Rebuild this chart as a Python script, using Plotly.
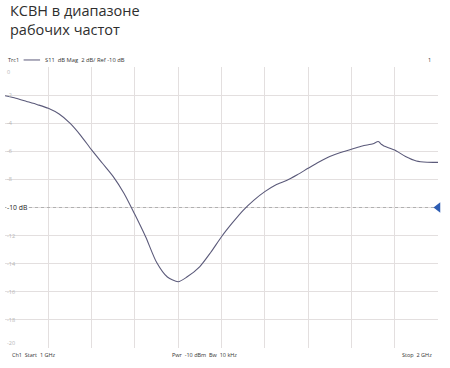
import plotly.graph_objects as go

# Data (frequency in GHz, S11 in dB)
freq_ghz = [1.000, 1.025, 1.050, 1.075, 1.100, 1.125, 1.150, 1.175, 1.200, 1.225,
            1.250, 1.275, 1.300, 1.325, 1.350, 1.375, 1.400, 1.420, 1.450, 1.475,
            1.500, 1.525, 1.550, 1.575, 1.600, 1.625, 1.650, 1.675, 1.700, 1.725,
            1.750, 1.775, 1.800, 1.825, 1.850, 1.862, 1.870, 1.875, 1.900, 1.925,
            1.950, 1.975, 2.000]
s11_db = [-2.05, -2.22, -2.45, -2.68, -2.94, -3.35, -4.00, -4.88, -5.90, -6.85,
          -7.80, -9.00, -10.50, -12.10, -13.90, -14.95, -15.28, -14.95, -14.20, -13.20,
          -12.08, -11.10, -10.20, -9.47, -8.87, -8.40, -8.08, -7.67, -7.21, -6.76,
          -6.37, -6.08, -5.86, -5.62, -5.46, -5.30, -5.52, -5.62, -5.91, -6.37,
          -6.69, -6.78, -6.79]

x_ticks = [1.1, 1.2, 1.3, 1.4, 1.5, 1.6, 1.7, 1.8, 1.9]
y_ticks = [0, -2, -4, -6, -8, -10, -12, -14, -16, -18, -20]
ref_level = -10
title_text = "КСВН в диапазоне<br>рабочих частот"
header_text = "S11  dB Mag  2 dB/ Ref -10 dB"
footer_left = "Ch1  Start  1 GHz"
footer_mid = "Pwr  -10 dBm  Bw  10 kHz"
footer_right = "Stop  2 GHz"

FONT = "Open Sans"
GRID = "#e3dfdf"
TRACE = "#5b5a7a"

fig = go.Figure()

# reference dashed line
fig.add_trace(go.Scatter(x=[freq_ghz[0], freq_ghz[-1]], y=[ref_level, ref_level],
                         mode="lines", line=dict(color="#b0b0b0", width=1, dash="dot"),
                         hoverinfo="skip", showlegend=False))
# trace
fig.add_trace(go.Scatter(x=freq_ghz, y=s11_db, mode="lines",
                         line=dict(color=TRACE, width=1.1, shape="spline", smoothing=0.7),
                         showlegend=False))
# reference marker
fig.add_trace(go.Scatter(x=[freq_ghz[-1]], y=[ref_level], mode="markers",
                         marker=dict(symbol="triangle-left", size=9, color="#2d5db3"),
                         cliponaxis=False, showlegend=False))

annotations = []
for i, v in enumerate(y_ticks):
    if v == ref_level:
        txt, col, sz, bg = "-10 dB", "#222222", 6.8, "white"
    else:
        txt, col, sz, bg = str(v), "#b5b5b5", 5.5, "rgba(0,0,0,0)"
    anchor = "middle"
    if i == 0:
        anchor = "top"
    elif i == len(y_ticks) - 1:
        anchor = "bottom"
    annotations.append(dict(x=0, xref="paper", y=v, yref="y", text=txt, showarrow=False,
                            xanchor="left", yanchor=anchor, xshift=1, bgcolor=bg,
                            borderpad=0,
                            font=dict(family=FONT, size=sz, color=col)))

# title
annotations.append(dict(x=0, xref="paper", y=1, yref="paper", text=title_text,
                        showarrow=False, xanchor="left", yanchor="top", align="left",
                        xshift=3, yshift=68,
                        font=dict(family=FONT, size=14.5, color="#2e2e2e")))
# header line
annotations.append(dict(x=0, xref="paper", y=1, yref="paper", text="Trc1",
                        showarrow=False, xanchor="left", yanchor="middle",
                        xshift=1, yshift=7, font=dict(family=FONT, size=5.5, color="#333")))
annotations.append(dict(x=0, xref="paper", y=1, yref="paper", text=header_text,
                        showarrow=False, xanchor="left", yanchor="middle",
                        xshift=38, yshift=7, font=dict(family=FONT, size=5.8, color="#333")))
annotations.append(dict(x=1, xref="paper", y=1, yref="paper", text="1",
                        showarrow=False, xanchor="right", yanchor="middle",
                        xshift=-5, yshift=7, font=dict(family=FONT, size=5.5, color="#333")))
# footer
annotations.append(dict(x=0, xref="paper", y=0, yref="paper", text=footer_left,
                        showarrow=False, xanchor="left", yanchor="middle",
                        xshift=5, yshift=-7, font=dict(family=FONT, size=5.5, color="#333")))
annotations.append(dict(x=0.46, xref="paper", y=0, yref="paper", text=footer_mid,
                        showarrow=False, xanchor="center", yanchor="middle",
                        yshift=-7, font=dict(family=FONT, size=5.5, color="#333")))
annotations.append(dict(x=1, xref="paper", y=0, yref="paper", text=footer_right,
                        showarrow=False, xanchor="right", yanchor="middle",
                        xshift=-4, yshift=-7, font=dict(family=FONT, size=5.5, color="#333")))

shapes = [dict(type="line", xref="paper", yref="paper", x0=0.043, x1=0.081,
               y0=1.025, y1=1.025, line=dict(color=TRACE, width=1))]

fig.update_layout(
    width=450, height=368,
    margin=dict(l=5, r=12, t=67, b=20),
    paper_bgcolor="white", plot_bgcolor="white",
    showlegend=False,
    annotations=annotations,
    shapes=shapes,
    xaxis=dict(range=[1.0, 2.0], tickvals=x_ticks, showticklabels=False,
               showgrid=True, gridcolor=GRID, gridwidth=1, zeroline=False,
               showline=False, fixedrange=True),
    yaxis=dict(range=[-20, 0], tickvals=y_ticks, showticklabels=False,
               showgrid=True, gridcolor=GRID, gridwidth=1, zeroline=False,
               showline=False, fixedrange=True),
    font=dict(family=FONT),
)

fig.write_html("out.html")
